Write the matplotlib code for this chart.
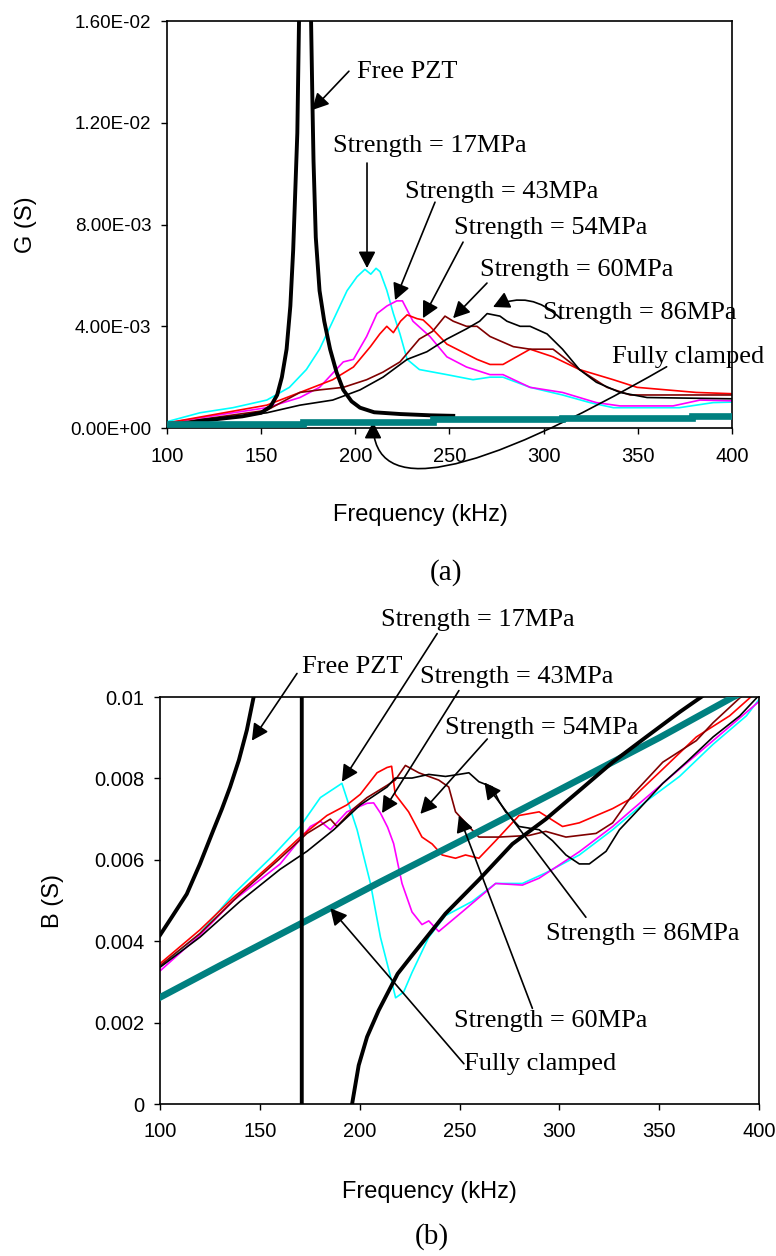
import numpy as np
import matplotlib.pyplot as plt
from matplotlib.ticker import FuncFormatter, MultipleLocator

SANS = "Liberation Sans"
SERIF = "Liberation Serif"
plt.rcParams["font.family"] = [SANS, "DejaVu Sans"]

# ---------------- conductance G (values in mS) ----------------
g_free_f = [100, 110, 117.5, 130, 140, 150, 155, 158.5, 161, 163.5, 165.5, 167, 168.2, 169.2,
            170.2, 173.3, 176.5, 177.2, 177.8, 179, 181, 183.5, 186.6, 190, 193.6, 198, 202.5,
            210, 224, 240, 252]
g_free = [0.1, 0.18, 0.28, 0.38, 0.46, 0.6, 0.85, 1.3, 2.0, 3.1, 4.8, 7.0, 9.5, 11.6,
          16.5, 30.0, 16.0, 12.9, 10.5, 7.5, 5.4, 4.2, 3.1, 2.2, 1.5, 1.05, 0.8,
          0.62, 0.55, 0.5, 0.48]

g_clamp_f = [100, 172, 172, 241, 241, 310, 310, 379, 379, 400]
g_clamp = [0.14, 0.14, 0.25, 0.25, 0.34, 0.34, 0.41, 0.41, 0.47, 0.47]

g17_f = [100, 117.5, 135, 153, 165, 174, 181, 188, 195.6, 200.9, 205.1, 208.2, 211, 213.1,
         216.7, 220.2, 223.7, 227.5, 234, 248.6, 262.5, 271.5, 278.4, 292.8, 310, 324.6,
         337, 372, 390, 400]
g17 = [0.25, 0.6, 0.8, 1.1, 1.6, 2.3, 3.1, 4.2, 5.4, 5.95, 6.24, 6.05, 6.28, 6.15,
       5.42, 4.5, 3.7, 2.7, 2.3, 2.1, 1.9, 2.0, 2.0, 1.6, 1.3, 1.0,
       0.8, 0.8, 1.0, 1.02]

g43_f = [100, 135, 153, 170.6, 181, 193.6, 199, 206, 211.5, 216.8, 222, 225, 230.6, 239.6,
         248.6, 259, 271.5, 278.4, 292.8, 310, 328, 340.5, 368.7, 383, 400]
g43 = [0.2, 0.6, 0.8, 1.2, 1.6, 2.6, 2.7, 3.6, 4.5, 4.8, 5.0, 5.0, 4.2, 3.6,
       2.8, 2.4, 2.1, 2.1, 1.6, 1.4, 1.0, 0.87, 0.87, 1.1, 1.07]

g54_f = [100, 153, 170.6, 188, 199, 208, 213, 216.7, 220.2, 224, 227.5, 232.8, 236, 239.6,
         248.6, 264.6, 271.5, 278.4, 292.8, 305, 319, 337, 349.6, 381, 400]
g54 = [0.2, 0.9, 1.4, 1.9, 2.4, 3.2, 3.7, 4.0, 3.75, 4.2, 4.45, 4.3, 4.25, 4.0,
       3.3, 2.7, 2.5, 2.5, 3.1, 2.8, 2.3, 1.9, 1.6, 1.4, 1.35]

g60_f = [100, 153, 170.6, 181, 193.6, 206, 214.7, 223.7, 234, 241, 247.6, 252, 259, 264.6,
         271.5, 283.9, 292.8, 305, 319, 333.6, 345.9, 372.4, 400]
g60 = [0.15, 0.7, 1.4, 1.5, 1.6, 1.9, 2.2, 2.6, 3.5, 3.8, 4.4, 4.2, 4.0, 4.0,
       3.6, 3.2, 3.1, 3.1, 2.3, 1.6, 1.3, 1.3, 1.3]

g86_f = [100, 153, 170.6, 188, 202.5, 214.7, 227.5, 238, 248.6, 259, 266, 270, 276.8, 280.5,
         287.5, 292.8, 301.8, 310, 319, 328, 340.5, 354.9, 400]
g86 = [0.1, 0.6, 0.9, 1.1, 1.5, 2.0, 2.7, 3.0, 3.5, 3.9, 4.2, 4.5, 4.4, 4.2,
       4.0, 4.0, 3.7, 3.1, 2.3, 1.8, 1.4, 1.2, 1.15]

# ---------------- susceptance B (values in mS) ----------------
b_free_f = [100, 106, 113.4, 120, 126.8, 131, 135.1, 139.5, 143.5, 146.8, 149.6, 160, 171, 171,
            185, 196.2, 199.5, 203.7, 209.5, 219, 226.2, 243, 259.7, 276.5, 293.2, 310, 326.7,
            343.5, 360.2, 371, 380, 400]
b_free = [4.15, 4.6, 5.16, 5.9, 6.74, 7.25, 7.79, 8.45, 9.19, 9.98, 10.5, 14.0, 30.0, -30.0,
          -3.0, 0.0, 0.95, 1.65, 2.3, 3.2, 3.65, 4.68, 5.51, 6.39, 7.0, 7.7, 8.4,
          9.02, 9.63, 10.0, 10.35, 11.0]

b_clamp_f = [100, 130, 170, 210, 250, 300, 350, 387, 400]
b_clamp = [2.62, 3.4, 4.42, 5.45, 6.45, 7.72, 9.0, 10.0, 10.3]

b17_f = [100, 120, 136.8, 156.9, 170.2, 180.3, 191.1, 198.7, 205.4, 210.4, 215.4, 218, 222,
         226.2, 234.6, 243, 256.4, 268.1, 281.5, 293.2, 310, 326.7, 343.5, 360.2, 377, 393.7, 400]
b17 = [3.38, 4.19, 5.16, 6.12, 6.82, 7.53, 7.88, 6.74, 5.42, 4.1, 3.14, 2.61, 2.75,
       3.23, 4.1, 4.63, 4.98, 5.42, 5.42, 5.68, 6.12, 6.74, 7.44, 8.05, 8.84, 9.54, 9.94]

b43_f = [100, 120, 136.8, 160.2, 175.3, 180.3, 185.3, 193.6, 203.7, 207, 210.4, 214, 217, 221.2,
         226.2, 231.2, 234.6, 239.6, 251.3, 259.7, 268.1, 281.5, 289.9, 310, 326.7, 343.5,
         360.2, 377, 400]
b43 = [3.27, 4.15, 5.0, 5.9, 6.82, 6.95, 6.74, 7.18, 7.39, 7.4, 7.15, 6.8, 6.4, 5.42,
       4.72, 4.41, 4.5, 4.24, 4.72, 5.07, 5.42, 5.38, 5.55, 6.2, 6.82, 7.53,
       8.23, 8.93, 9.89]

b54_f = [100, 120, 136.8, 156.9, 170.2, 183.6, 193.6, 200.3, 208.7, 213.7, 216, 217.8, 224.5,
         231.2, 236.3, 241.3, 248, 253, 259.7, 268.1, 279.8, 289.9, 301.6, 310, 326.7, 336.8,
         351.8, 368.6, 385.3, 395.4, 400]
b54 = [3.45, 4.28, 5.07, 5.95, 6.56, 7.09, 7.35, 7.61, 8.14, 8.27, 8.3, 7.61, 7.18,
       6.56, 6.39, 6.12, 6.04, 6.12, 6.04, 6.47, 7.09, 7.18, 6.82, 6.91, 7.26, 7.53,
       8.23, 9.02, 9.54, 9.98, 10.2]

b60_f = [100, 120, 140.1, 160.2, 173.6, 185.3, 188.6, 197, 203.7, 213.7, 217.8, 222.9, 229.6,
         239.6, 244.6, 248, 254.7, 259.7, 269.8, 284.8, 293.2, 303.3, 318.4, 326.7, 336.8,
         351.8, 368.6, 377, 390.4, 400]
b60 = [3.4, 4.19, 5.16, 6.04, 6.65, 7.0, 6.82, 7.26, 7.53, 7.83, 7.96, 8.32, 8.14,
       7.96, 7.79, 7.18, 6.82, 6.56, 6.56, 6.6, 6.7, 6.56, 6.65, 6.91, 7.61,
       8.4, 8.93, 9.37, 9.98, 10.4]

b86_f = [100, 120, 140.1, 160.2, 173.6, 187, 200.3, 213.7, 217.8, 226.2, 234.6, 243, 249.7,
         254.7, 259.7, 266.4, 269.8, 273.1, 279.8, 289.9, 296.6, 303.3, 310, 315, 323.4,
         330.1, 340.1, 351.8, 363.6, 377, 390.4, 398.8, 400]
b86 = [3.36, 4.1, 4.98, 5.77, 6.21, 6.74, 7.35, 7.79, 8.01, 8.01, 8.1, 8.05, 8.1,
       8.14, 7.92, 7.79, 7.44, 7.18, 6.82, 6.74, 6.47, 6.12, 5.9, 5.9, 6.21,
       6.74, 7.26, 7.88, 8.4, 9.02, 9.54, 9.98, 10.05]

CYAN, MAGENTA, RED, MAROON, TEAL = "#00FFFF", "#FF00FF", "#FF0000", "#800000", "#008080"

thin_g = [(g17_f, g17, CYAN), (g43_f, g43, MAGENTA), (g54_f, g54, RED),
          (g60_f, g60, MAROON), (g86_f, g86, "black")]
thin_b = [(b17_f, b17, CYAN), (b43_f, b43, MAGENTA), (b54_f, b54, RED),
          (b60_f, b60, MAROON), (b86_f, b86, "black")]

ms = 1e-3  # mS -> S


def arrow(ax, tail, head, style="arc3"):
    ax.annotate("", xy=(head[0], head[1] * ms), xytext=(tail[0], tail[1] * ms),
                arrowprops=dict(arrowstyle="-|>,head_length=0.5,head_width=0.26",
                                mutation_scale=20, lw=1.2, color="black",
                                shrinkA=0, shrinkB=0, connectionstyle=style))


def label(ax, text, xy, ha="center"):
    ax.text(xy[0], xy[1] * ms, text, ha=ha, va="center", fontsize=19, family=SERIF)


def style_axes(ax, ysize=14.5):
    for sp in ax.spines.values():
        sp.set_linewidth(1.2)
    ax.tick_params(direction="out", length=4.3, width=1.0)
    ax.tick_params(axis="x", pad=9, labelsize=14.5)
    ax.tick_params(axis="y", pad=7, labelsize=ysize)
    ax.set_xlim(100, 400)
    ax.xaxis.set_major_locator(MultipleLocator(50))


fig = plt.figure(figsize=(7.76, 12.56), dpi=100)

# ---------------- (a) conductance ----------------
ax_g = fig.add_axes([0.2152, 0.6592, 0.7281, 0.3240])
for f, v, c in thin_g:
    ax_g.plot(f, np.array(v) * ms, color=c, lw=1.2, zorder=2)
ax_g.plot(g_free_f, np.array(g_free) * ms, color="black", lw=2.8, zorder=3)
ax_g.plot(g_clamp_f, np.array(g_clamp) * ms, color=TEAL, lw=4.8, zorder=4,
          solid_joinstyle="miter")
ax_g.set_ylim(0, 0.016)
ax_g.yaxis.set_major_locator(MultipleLocator(0.004))
ax_g.yaxis.set_major_formatter(FuncFormatter(lambda v, p: f"{v:.2E}"))
style_axes(ax_g, ysize=13.5)
ax_g.set_xlabel("Frequency (kHz)", fontsize=17, va="center")
ax_g.xaxis.set_label_coords(0.448, -0.214)
ax_g.set_ylabel("G (S)", fontsize=17, va="center")
ax_g.yaxis.set_label_coords(-0.2496, 0.5)

label(ax_g, "Free PZT", (200.9, 14.0), ha="left")
arrow(ax_g, (196.6, 14.03), (177.0, 12.5))
label(ax_g, "Strength = 17MPa", (239.4, 11.09))
arrow(ax_g, (206.2, 10.42), (206.2, 6.29))
label(ax_g, "Strength = 43MPa", (277.6, 9.28))
arrow(ax_g, (242.3, 8.88), (221.1, 5.03))
label(ax_g, "Strength = 54MPa", (303.6, 7.86))
arrow(ax_g, (257.2, 7.31), (235.9, 4.32))
label(ax_g, "Strength = 60MPa", (317.7, 6.21))
arrow(ax_g, (269.9, 5.70), (251.9, 4.32))
label(ax_g, "Strength = 86MPa", (350.9, 4.52))
arrow(ax_g, (309.0, 4.30), (273.1, 4.76), style="arc3,rad=0.35")
label(ax_g, "Fully clamped", (376.7, 2.79))
arrow(ax_g, (365.3, 2.41), (209.4, 0.24), style="angle3,angleA=30,angleB=90")

fig.text(446 / 776, 1 - 573 / 1256, "(a)", ha="center", va="center",
         fontsize=21, family=SERIF)

# ---------------- (b) susceptance ----------------
ax_b = fig.add_axes([0.2062, 0.1210, 0.7719, 0.3240])
for f, v, c in thin_b:
    ax_b.plot(f, np.array(v) * ms, color=c, lw=1.2, zorder=2)
ax_b.plot(b_clamp_f, np.array(b_clamp) * ms, color=TEAL, lw=4.8, zorder=3)
ax_b.plot(b_free_f, np.array(b_free) * ms, color="black", lw=2.8, zorder=4)
ax_b.set_ylim(0, 0.01)
ax_b.yaxis.set_major_locator(MultipleLocator(0.002))
ax_b.yaxis.set_major_formatter(FuncFormatter(lambda v, p: f"{v:g}"))
style_axes(ax_b)
ax_b.set_xlabel("Frequency (kHz)", fontsize=17, va="center")
ax_b.xaxis.set_label_coords(0.449, -0.216)
ax_b.set_ylabel("B (S)", fontsize=17, va="center")
ax_b.yaxis.set_label_coords(-0.178, 0.5)

label(ax_b, "Strength = 17MPa", (259.0, 11.89))
arrow(ax_b, (238.8, 11.56), (191.1, 7.92))
label(ax_b, "Free PZT", (171.1, 10.73), ha="left")
arrow(ax_b, (168.6, 10.58), (146.0, 8.93))
label(ax_b, "Strength = 43MPa", (278.8, 10.49))
arrow(ax_b, (249.7, 10.16), (211.2, 7.15))
label(ax_b, "Strength = 54MPa", (291.0, 9.24))
arrow(ax_b, (263.9, 8.97), (230.4, 7.13))
label(ax_b, "Strength = 86MPa", (342.0, 4.18))
arrow(ax_b, (313.3, 4.59), (262.5, 7.90))
label(ax_b, "Strength = 60MPa", (295.5, 2.04))
arrow(ax_b, (286.5, 2.35), (249.7, 7.09))
label(ax_b, "Fully clamped", (290.5, 0.99))
arrow(ax_b, (252.2, 0.99), (185.3, 4.81))

fig.text(432 / 776, 1 - 1237 / 1256, "(b)", ha="center", va="center",
         fontsize=21, family=SERIF)

fig.savefig("out.png", dpi=100)
